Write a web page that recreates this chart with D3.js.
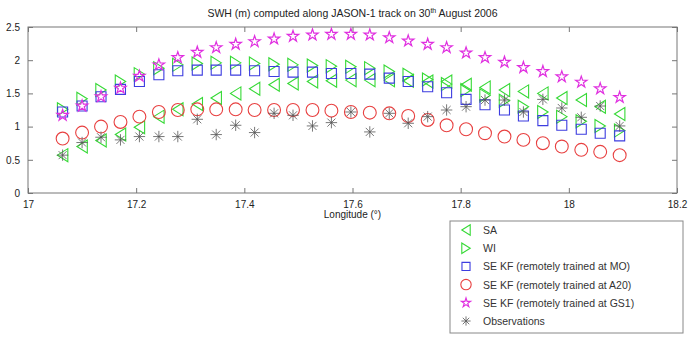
<!DOCTYPE html>
<html>
<head>
<meta charset="utf-8">
<script src="https://cdn.jsdelivr.net/npm/d3@7"></script>
<style>
	body { margin: 0; background: #fff; }
	svg text { font-family: "Liberation Sans", Arial, sans-serif; fill: #222; }
	.axis path { display: none; }
	.axis line { stroke: #777; }
	.axis text { font-size: 10px; }
</style>
</head>
<body>
<div id="chart"></div>
<script>
// longitude of each track point (deg)
var longitudes = [17.064, 17.100, 17.135, 17.171, 17.206, 17.242, 17.277, 17.313, 17.348, 17.384,
	17.419, 17.455, 17.490, 17.526, 17.561, 17.597, 17.632, 17.668, 17.703, 17.739,
	17.774, 17.810, 17.845, 17.881, 17.916, 17.952, 17.987, 18.023, 18.058, 18.094];

var sa = [0.57, 0.70, 0.79, 0.88, 0.99, 1.15, 1.26, 1.34, 1.43, 1.50,
	1.57, 1.63, 1.65, 1.68, 1.69, 1.70, 1.70, 1.70, 1.69, 1.68,
	1.68, 1.63, 1.59, 1.55, 1.53, 1.50, 1.43, 1.40, 1.30, 1.19];

var wi = [1.26, 1.42, 1.55, 1.68, 1.79, 1.88, 1.93, 1.95, 1.96, 1.96,
	1.95, 1.94, 1.93, 1.92, 1.91, 1.90, 1.88, 1.83, 1.78, 1.71,
	1.64, 1.55, 1.47, 1.39, 1.30, 1.22, 1.15, 1.08, 1.01, 0.94];

var kfMO = [1.22, 1.31, 1.45, 1.56, 1.68, 1.78, 1.84, 1.85, 1.85, 1.85,
	1.84, 1.83, 1.82, 1.82, 1.80, 1.80, 1.79, 1.73, 1.68, 1.60,
	1.51, 1.41, 1.33, 1.25, 1.16, 1.09, 1.02, 0.96, 0.90, 0.86];

var kfA20 = [0.82, 0.91, 1.00, 1.07, 1.15, 1.22, 1.25, 1.26, 1.26, 1.26,
	1.25, 1.25, 1.25, 1.25, 1.24, 1.22, 1.21, 1.20, 1.16, 1.10,
	1.02, 0.96, 0.90, 0.85, 0.80, 0.75, 0.70, 0.65, 0.62, 0.57];

var kfGS1 = [1.17, 1.31, 1.45, 1.58, 1.76, 1.93, 2.04, 2.12, 2.19, 2.24,
	2.28, 2.32, 2.36, 2.38, 2.39, 2.39, 2.38, 2.34, 2.29, 2.24,
	2.19, 2.11, 2.04, 1.97, 1.89, 1.83, 1.75, 1.67, 1.57, 1.44];

var observations = [0.57, 0.76, 0.84, 0.80, 0.85, 0.85, 0.85, 1.11, 0.88, 1.02,
	0.91, 1.20, 1.17, 1.01, 1.06, 1.22, 0.92, 1.20, 1.05, 1.15,
	1.25, 1.30, 1.40, 1.40, 1.22, 1.41, 1.28, 1.14, 1.31, 1.01];

var xTicks = [17, 17.2, 17.4, 17.6, 17.8, 18, 18.2];
var xTickLabels = ["17", "17.2", "17.4", "17.6", "17.8", "18", "18.2"];
var yTicks = [0, 0.5, 1, 1.5, 2, 2.5];
var yTickLabels = ["0", "0.5", "1", "1.5", "2", "2.5"];

var seriesNames = ["SA", "WI", "SE KF (remotely trained at MO)", "SE KF (remotely trained at A20)",
	"SE KF (remotely trained at GS1)", "Observations"];

// ---- custom matlab-like markers ----
var triLeft = { draw: function(c, s) {
	var r = Math.sqrt(s) / 2;
	c.moveTo(-r * 0.8, 0); c.lineTo(r * 0.8, -r); c.lineTo(r * 0.8, r); c.closePath();
}};
var triRight = { draw: function(c, s) {
	var r = Math.sqrt(s) / 2;
	c.moveTo(r * 0.8, 0); c.lineTo(-r * 0.8, -r); c.lineTo(-r * 0.8, r); c.closePath();
}};
var asterisk = { draw: function(c, s) {
	var r = Math.sqrt(s) / 2;
	for (var k = 0; k < 4; k++) {
		var a = k * Math.PI / 4;
		c.moveTo(-r * Math.cos(a), -r * Math.sin(a));
		c.lineTo(r * Math.cos(a), r * Math.sin(a));
	}
}};

var styles = [
	{ data: sa, type: triLeft, size: 170, color: "#36d936", sw: 1.1 },
	{ data: wi, type: triRight, size: 170, color: "#36d936", sw: 1.1 },
	{ data: kfMO, type: d3.symbolSquare, size: 100, color: "#3d3de0", sw: 1.1 },
	{ data: kfA20, type: d3.symbolCircle, size: 130, color: "#e84040", sw: 1.1 },
	{ data: kfGS1, type: d3.symbolStar, size: 40, color: "#e030e0", sw: 1.2 },
	{ data: observations, type: asterisk, size: 130, color: "#555", sw: 0.8 }
];

var W = 690, H = 340;
var M = { t: 27, r: 13, b: 147, l: 28 };

var svg = d3.select("#chart").append("svg")
	.attr("width", W)
	.attr("height", H);

var scaleX = d3.scaleLinear().domain([17, 18.2]).range([M.l, W - M.r]);
var scaleY = d3.scaleLinear().domain([0, 2.5]).range([H - M.b, M.t]);

// axes, ticks pointing inward on all four sides
svg.append("g").attr("class", "axis")
	.attr("transform", "translate(0," + (H - M.b) + ")")
	.call(d3.axisBottom(scaleX).tickValues(xTicks).tickSize(-5).tickPadding(8)
		.tickFormat(function(d, i) { return xTickLabels[i]; }));
svg.append("g").attr("class", "axis")
	.attr("transform", "translate(0," + M.t + ")")
	.call(d3.axisTop(scaleX).tickValues(xTicks).tickSize(-5).tickFormat(""));
svg.append("g").attr("class", "axis")
	.attr("transform", "translate(" + M.l + ",0)")
	.call(d3.axisLeft(scaleY).tickValues(yTicks).tickSize(-5).tickPadding(8)
		.tickFormat(function(d, i) { return yTickLabels[i]; }));
svg.append("g").attr("class", "axis")
	.attr("transform", "translate(" + (W - M.r) + ",0)")
	.call(d3.axisRight(scaleY).tickValues(yTicks).tickSize(-5).tickFormat(""));

svg.append("rect")
	.attr("x", M.l).attr("y", M.t)
	.attr("width", W - M.r - M.l).attr("height", H - M.b - M.t)
	.style("fill", "none").style("stroke", "#777");

// series markers
styles.forEach(function(s) {
	svg.append("g").selectAll("path").data(s.data).enter().append("path")
		.attr("transform", function(d, i) { return "translate(" + scaleX(longitudes[i]) + "," + scaleY(d) + ")"; })
		.attr("d", d3.symbol().type(s.type).size(s.size))
		.style("fill", "none")
		.style("stroke", s.color)
		.style("stroke-width", s.sw);
});

// title
var title = svg.append("text")
	.attr("x", (M.l + W - M.r) / 2).attr("y", 17)
	.attr("text-anchor", "middle")
	.style("font-size", "10.5px");
title.append("tspan").text("SWH (m) computed along JASON-1 track on 30");
title.append("tspan").attr("dy", -4).style("font-size", "7px").text("th");
title.append("tspan").attr("dy", 4).text(" August 2006");

svg.append("text")
	.attr("x", (M.l + W - M.r) / 2).attr("y", 218)
	.attr("text-anchor", "middle")
	.style("font-size", "10px")
	.text("Longitude (\u00B0)");

// legend
var legend = svg.append("g").attr("transform", "translate(450,221)");
legend.append("rect")
	.attr("width", 233).attr("height", 112)
	.style("fill", "#fff").style("stroke", "#888");

styles.forEach(function(s, i) {
	var ly = 9 + i * 18.2;
	legend.append("path")
		.attr("transform", "translate(16," + ly + ")")
		.attr("d", d3.symbol().type(s.type).size(s.size * 0.65))
		.style("fill", "none")
		.style("stroke", s.color)
		.style("stroke-width", s.sw);
	legend.append("text")
		.attr("x", 33).attr("y", ly + 4)
		.style("font-size", "10.5px")
		.style("fill", "#333")
		.text(seriesNames[i]);
});
</script>
</body>
</html>
